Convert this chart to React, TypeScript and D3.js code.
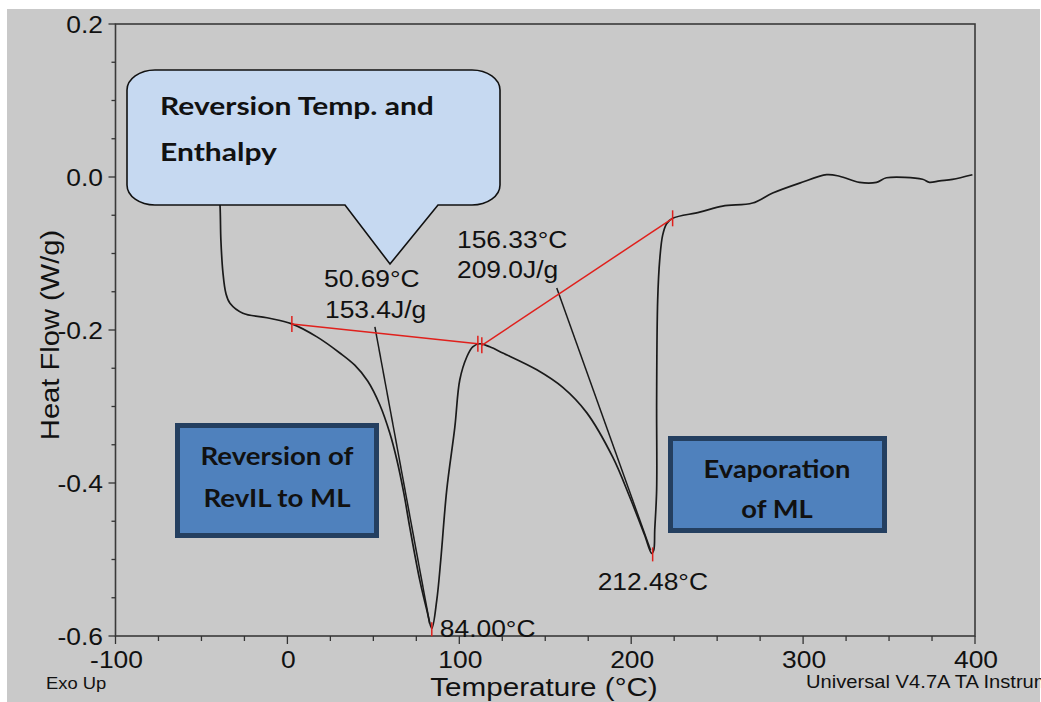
import React from "react";
import * as d3 from "d3";

// DSC trace
const temps = [-40.5, -39.2, -38.7, -37.5, -35.8, -33.4, -25.9, -11.9, 2.6, 17.2, 30.5, 39.2, 46.8, 53.8, 59.6, 63.7, 67.7, 71.2, 77.0, 81.1, 84.0, 86.9, 89.2, 92.7, 97.4, 100.3, 104.4, 107.8, 111.9, 117.7, 125.3, 145.1, 160.2, 174.1, 189.2, 199.1, 207.8, 211.9, 213.1, 213.7, 214.8, 214.8, 215.4, 216.6, 218.3, 220.6, 224.1, 239.8, 253.2, 270.6, 282.3, 298.0, 313.7, 321.2, 332.8, 342.7, 348.5, 369.5, 373.5, 379.4, 386.9, 398.5];
const heatFlow = [0.0, -0.037, -0.082, -0.125, -0.152, -0.165, -0.178, -0.184, -0.192, -0.209, -0.23, -0.246, -0.267, -0.298, -0.335, -0.37, -0.413, -0.458, -0.527, -0.566, -0.59, -0.553, -0.501, -0.409, -0.327, -0.265, -0.235, -0.222, -0.218, -0.222, -0.23, -0.252, -0.275, -0.308, -0.366, -0.418, -0.468, -0.492, -0.488, -0.461, -0.409, -0.292, -0.161, -0.108, -0.076, -0.061, -0.054, -0.046, -0.038, -0.034, -0.021, -0.008, 0.003, 0.001, -0.007, -0.007, -0.001, -0.003, -0.007, -0.005, -0.003, 0.003];

// integration baselines (red) and onset tangents (black)
const baseline1T = [2.6, 110.8];
const baseline1HF = [-0.192, -0.218];
const baseline2T = [113.1, 224.1];
const baseline2HF = [-0.22, -0.054];
const tangent1T = [50.9, 82.8];
const tangent1HF = [-0.196, -0.584];
const tangent2T = [156.7, 211.3];
const tangent2HF = [-0.145, -0.488];

// peaks
const peakT = [84.0, 212.48];
const peakHF = [-0.59, -0.492];
const peakLabels = ["84.00°C", "212.48°C"];

const xTicks = [-100, 0, 100, 200, 300, 400];
const yTicks = [0.2, 0.0, -0.2, -0.4, -0.6];

const W = 1041;
const H = 702;
const FONT = "'Liberation Sans', Arial, sans-serif";
const BOLD = "Lato, 'Open Sans', sans-serif";

// stretched text (the picture is a bit wider than tall)
const SText = ({ x, y, size, anchor = "start", sx = 1.12, weight = "normal", family = FONT, rotate = 0, fill = "#111", children }: any) => (
  <text
    transform={`translate(${x},${y}) rotate(${rotate}) scale(${sx},1)`}
    fontFamily={family}
    fontSize={size}
    fontWeight={weight}
    textAnchor={anchor}
    fill={fill}
  >
    {children}
  </text>
);

export default function App() {
  const x = d3.scaleLinear().domain([-100, 400]).range([115.5, 975]);
  const y = d3.scaleLinear().domain([-0.6, 0.2]).range([636, 24]);

  const line = d3
    .line<number>()
    .x((_, i) => x(temps[i]))
    .y((d) => y(d))
    .curve(d3.curveCatmullRom.alpha(0.5));

  const seg = (ts: number[], hs: number[]) =>
    d3.line<number>().x((_, i) => x(ts[i])).y((d) => y(d))(hs) || "";

  const minorY = d3.range(-0.6, 0.2001, 0.05);
  const minorX = d3.range(-100, 400.01, 25);

  // callout geometry (pixel layout)
  const cl = 127, cr = 500, ct = 70, cb = 205, rx = 28, ry = 20;
  const tailL = 345, tailR = 438, tipX = 390, tipY = 264;
  const callout = `M${cl + rx},${ct} H${cr - rx} A${rx},${ry} 0 0 1 ${cr},${ct + ry} V${cb - ry} A${rx},${ry} 0 0 1 ${cr - rx},${cb} H${tailR} L${tipX},${tipY} L${tailL},${cb} H${cl + rx} A${rx},${ry} 0 0 1 ${cl},${cb - ry} V${ct + ry} A${rx},${ry} 0 0 1 ${cl + rx},${ct} Z`;

  const red = "#e0201c";
  const ink = "#1a1a1a";

  return (
    <svg width={W} height={H} style={{ position: "absolute", left: 0, top: 0, display: "block" }}>
      <rect x={0} y={0} width={W} height={H} fill="#fff" />
      <rect x={7} y={9} width={1033} height={H - 9} fill="#c9c9c9" />

      {/* frame */}
      <rect x={x(-100)} y={y(0.2)} width={x(400) - x(-100)} height={y(-0.6) - y(0.2)} fill="none" stroke="#3a3a3a" strokeWidth={1.6} />

      {/* y ticks */}
      {minorY.map((v) => {
        const major = Math.abs(Math.round(v / 0.2) * 0.2 - v) < 1e-6;
        return <line key={"my" + v} x1={x(-100)} x2={x(-100) - (major ? 7 : 4)} y1={y(v)} y2={y(v)} stroke="#333" strokeWidth={1.3} />;
      })}
      {yTicks.map((v) => (
        <SText key={"yl" + v} x={103} y={y(v) + 8.5} size={24} anchor="end" sx={1.1}>
          {v.toFixed(1)}
        </SText>
      ))}

      {/* x ticks */}
      {minorX.map((v) => {
        const major = v % 100 === 0;
        return <line key={"mx" + v} x1={x(v)} x2={x(v)} y1={y(-0.6)} y2={y(-0.6) + (major ? 8 : 5)} stroke="#333" strokeWidth={1.3} />;
      })}
      {xTicks.map((v) => (
        <SText key={"xl" + v} x={x(v) + 1} y={668} size={24} anchor="middle" sx={1.1}>
          {v}
        </SText>
      ))}

      {/* axis titles */}
      <SText x={59} y={335} size={26} anchor="middle" rotate={-90} sx={1.12}>
        Heat Flow (W/g)
      </SText>
      <SText x={544} y={696} size={26} anchor="middle" sx={1.14}>
        Temperature (°C)
      </SText>
      <SText x={46} y={689} size={16} sx={1.15}>
        Exo Up
      </SText>
      <SText x={806} y={688} size={18} sx={1.12}>
        Universal V4.7A TA Instruments
      </SText>

      {/* trace */}
      <path d={line(heatFlow) || ""} fill="none" stroke={ink} strokeWidth={1.7} strokeLinejoin="round" />
      <path d={seg(tangent1T, tangent1HF)} fill="none" stroke={ink} strokeWidth={1.5} />
      <path d={seg(tangent2T, tangent2HF)} fill="none" stroke={ink} strokeWidth={1.5} />
      <path d={seg(baseline1T, baseline1HF)} fill="none" stroke={red} strokeWidth={1.5} />
      <path d={seg(baseline2T, baseline2HF)} fill="none" stroke={red} strokeWidth={1.5} />

      {/* baseline end marks */}
      {[
        [baseline1T[0], baseline1HF[0]],
        [baseline1T[1], baseline1HF[1]],
        [baseline2T[0], baseline2HF[0]],
        [baseline2T[1], baseline2HF[1]],
      ].map(([t, h], i) => (
        <line key={"bm" + i} x1={x(t)} x2={x(t)} y1={y(h) - 8} y2={y(h) + 8} stroke={red} strokeWidth={1.5} />
      ))}
      {peakT.map((t, i) => (
        <line key={"pm" + i} x1={x(t)} x2={x(t)} y1={y(peakHF[i]) - 6} y2={y(peakHF[i]) + 8} stroke={red} strokeWidth={1.5} />
      ))}

      {/* annotations */}
      <SText x={x(peakT[0]) + 8} y={y(peakHF[0]) + 9} size={24} sx={1.1}>
        {peakLabels[0]}
      </SText>
      <SText x={x(peakT[1]) - 55} y={y(peakHF[1]) + 37} size={24} sx={1.1}>
        {peakLabels[1]}
      </SText>
      <SText x={324} y={287} size={24} sx={1.1}>50.69°C</SText>
      <SText x={325} y={318} size={24} sx={1.1}>153.4J/g</SText>
      <SText x={457} y={248} size={24} sx={1.1}>156.33°C</SText>
      <SText x={457} y={278} size={24} sx={1.1}>209.0J/g</SText>

      {/* callout */}
      <path d={callout} fill="#c6d9f1" stroke="#111" strokeWidth={1.6} />
      <SText x={160} y={115} size={25} weight="bold" family={BOLD} sx={1.2}>
        Reversion Temp. and
      </SText>
      <SText x={160} y={161} size={25} weight="bold" family={BOLD} sx={1.2}>
        Enthalpy
      </SText>

      {/* blue boxes */}
      <rect x={177.5} y={425.5} width={199} height={110} fill="#4f81bd" stroke="#243f60" strokeWidth={5} />
      <SText x={277} y={465} size={24} weight="bold" family={BOLD} anchor="middle" sx={1.15}>
        Reversion of
      </SText>
      <SText x={277} y={507} size={24} weight="bold" family={BOLD} anchor="middle" sx={1.15}>
        RevIL to ML
      </SText>
      <rect x={670.5} y={438.5} width={214} height={92} fill="#4f81bd" stroke="#243f60" strokeWidth={5} />
      <SText x={777} y={478} size={24} weight="bold" family={BOLD} anchor="middle" sx={1.14}>
        Evaporation
      </SText>
      <SText x={777} y={518} size={24} weight="bold" family={BOLD} anchor="middle" sx={1.14}>
        of ML
      </SText>
    </svg>
  );
}
